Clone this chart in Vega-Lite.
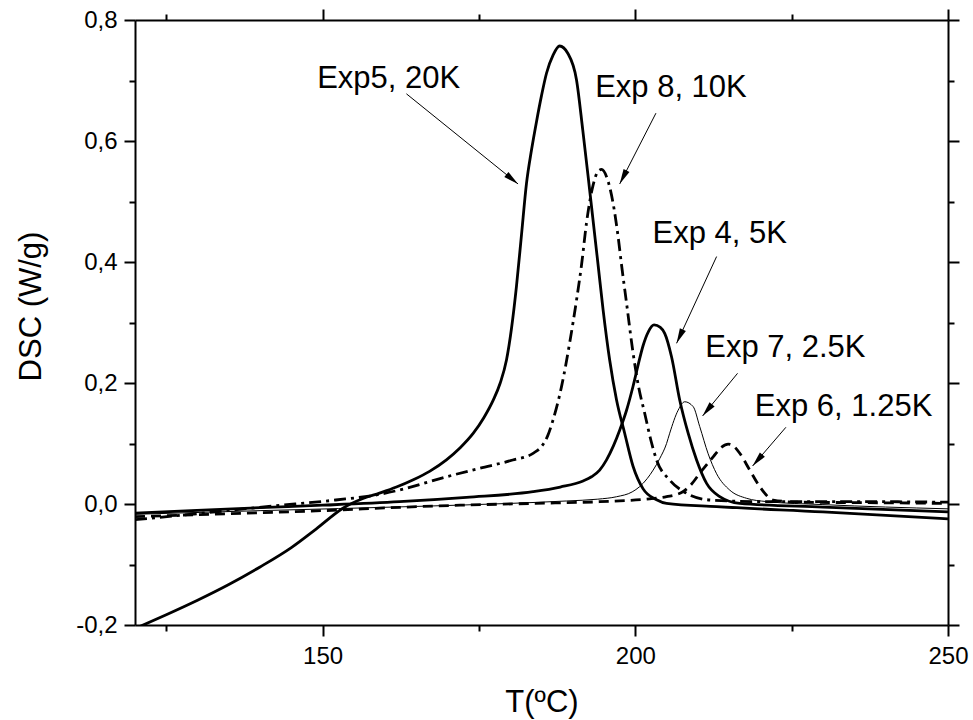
{
  "$schema": "https://vega.github.io/schema/vega-lite/v6.json",
  "width": 813,
  "height": 605,
  "autosize": {"type": "none"},
  "padding": {"left": 135, "top": 20, "right": 25, "bottom": 95},
  "background": "white",
  "config": {"view": {"stroke": null}, "font": "Liberation Sans"},
  "datasets": {
    "curves": [
      {"series": "Exp5", "T": 120, "DSC": -0.206},
      {"series": "Exp5", "T": 125, "DSC": -0.183},
      {"series": "Exp5", "T": 130, "DSC": -0.159},
      {"series": "Exp5", "T": 135, "DSC": -0.133},
      {"series": "Exp5", "T": 140, "DSC": -0.104},
      {"series": "Exp5", "T": 145, "DSC": -0.072},
      {"series": "Exp5", "T": 149, "DSC": -0.041},
      {"series": "Exp5", "T": 153.25, "DSC": -0.007},
      {"series": "Exp5", "T": 156.45, "DSC": 0.009},
      {"series": "Exp5", "T": 159.1, "DSC": 0.018},
      {"series": "Exp5", "T": 161.8, "DSC": 0.028},
      {"series": "Exp5", "T": 164.5, "DSC": 0.04},
      {"series": "Exp5", "T": 167.1, "DSC": 0.054},
      {"series": "Exp5", "T": 169.8, "DSC": 0.073},
      {"series": "Exp5", "T": 172.0, "DSC": 0.093},
      {"series": "Exp5", "T": 174.1, "DSC": 0.117},
      {"series": "Exp5", "T": 175.8, "DSC": 0.143},
      {"series": "Exp5", "T": 177.3, "DSC": 0.172},
      {"series": "Exp5", "T": 178.4, "DSC": 0.2},
      {"series": "Exp5", "T": 179.4, "DSC": 0.238},
      {"series": "Exp5", "T": 180.2, "DSC": 0.29},
      {"series": "Exp5", "T": 181.0, "DSC": 0.36},
      {"series": "Exp5", "T": 181.8, "DSC": 0.445},
      {"series": "Exp5", "T": 182.6, "DSC": 0.53},
      {"series": "Exp5", "T": 183.4, "DSC": 0.585},
      {"series": "Exp5", "T": 184.2, "DSC": 0.632},
      {"series": "Exp5", "T": 185.0, "DSC": 0.675},
      {"series": "Exp5", "T": 185.8, "DSC": 0.712},
      {"series": "Exp5", "T": 186.85, "DSC": 0.742},
      {"series": "Exp5", "T": 187.9, "DSC": 0.757},
      {"series": "Exp5", "T": 189.2, "DSC": 0.745},
      {"series": "Exp5", "T": 190.6, "DSC": 0.701},
      {"series": "Exp5", "T": 191.6, "DSC": 0.618},
      {"series": "Exp5", "T": 192.7, "DSC": 0.519},
      {"series": "Exp5", "T": 194.05, "DSC": 0.395},
      {"series": "Exp5", "T": 194.85, "DSC": 0.321},
      {"series": "Exp5", "T": 195.9, "DSC": 0.238},
      {"series": "Exp5", "T": 197.0, "DSC": 0.172},
      {"series": "Exp5", "T": 198.3, "DSC": 0.117},
      {"series": "Exp5", "T": 199.65, "DSC": 0.062},
      {"series": "Exp5", "T": 201.25, "DSC": 0.025},
      {"series": "Exp5", "T": 203.4, "DSC": 0.007},
      {"series": "Exp5", "T": 205.0, "DSC": 0.001},
      {"series": "Exp5", "T": 213.0, "DSC": -0.0044},
      {"series": "Exp5", "T": 230.0, "DSC": -0.013},
      {"series": "Exp5", "T": 250.0, "DSC": -0.0245},

      {"series": "Exp8", "T": 120, "DSC": -0.026},
      {"series": "Exp8", "T": 130, "DSC": -0.016},
      {"series": "Exp8", "T": 141.4, "DSC": -0.004},
      {"series": "Exp8", "T": 152.1, "DSC": 0.0066},
      {"series": "Exp8", "T": 158.0, "DSC": 0.014},
      {"series": "Exp8", "T": 162.3, "DSC": 0.0231},
      {"series": "Exp8", "T": 169.8, "DSC": 0.045},
      {"series": "Exp8", "T": 175.1, "DSC": 0.059},
      {"series": "Exp8", "T": 180.4, "DSC": 0.0727},
      {"series": "Exp8", "T": 183.65, "DSC": 0.0838},
      {"series": "Exp8", "T": 185.0, "DSC": 0.095},
      {"series": "Exp8", "T": 186.0, "DSC": 0.113},
      {"series": "Exp8", "T": 186.85, "DSC": 0.139},
      {"series": "Exp8", "T": 188.2, "DSC": 0.194},
      {"series": "Exp8", "T": 189.5, "DSC": 0.266},
      {"series": "Exp8", "T": 190.6, "DSC": 0.337},
      {"series": "Exp8", "T": 191.4, "DSC": 0.395},
      {"series": "Exp8", "T": 192.2, "DSC": 0.465},
      {"series": "Exp8", "T": 193.25, "DSC": 0.527},
      {"series": "Exp8", "T": 194.05, "DSC": 0.55},
      {"series": "Exp8", "T": 194.6, "DSC": 0.553},
      {"series": "Exp8", "T": 195.4, "DSC": 0.541},
      {"series": "Exp8", "T": 196.45, "DSC": 0.497},
      {"series": "Exp8", "T": 197.25, "DSC": 0.442},
      {"series": "Exp8", "T": 197.8, "DSC": 0.395},
      {"series": "Exp8", "T": 198.6, "DSC": 0.332},
      {"series": "Exp8", "T": 199.65, "DSC": 0.249},
      {"series": "Exp8", "T": 200.5, "DSC": 0.195},
      {"series": "Exp8", "T": 201.5, "DSC": 0.15},
      {"series": "Exp8", "T": 202.5, "DSC": 0.105},
      {"series": "Exp8", "T": 203.4, "DSC": 0.0727},
      {"series": "Exp8", "T": 205.5, "DSC": 0.0397},
      {"series": "Exp8", "T": 208.2, "DSC": 0.0177},
      {"series": "Exp8", "T": 212.0, "DSC": 0.0066},
      {"series": "Exp8", "T": 220.0, "DSC": 0.004},
      {"series": "Exp8", "T": 235.0, "DSC": 0.004},
      {"series": "Exp8", "T": 250.0, "DSC": 0.003},

      {"series": "Exp4", "T": 120, "DSC": -0.015},
      {"series": "Exp4", "T": 140, "DSC": -0.006},
      {"series": "Exp4", "T": 150, "DSC": -0.002},
      {"series": "Exp4", "T": 162.3, "DSC": 0.0038},
      {"series": "Exp4", "T": 173.0, "DSC": 0.011},
      {"series": "Exp4", "T": 183.65, "DSC": 0.0203},
      {"series": "Exp4", "T": 188.0, "DSC": 0.028},
      {"series": "Exp4", "T": 191.65, "DSC": 0.038},
      {"series": "Exp4", "T": 193.0, "DSC": 0.045},
      {"series": "Exp4", "T": 194.3, "DSC": 0.056},
      {"series": "Exp4", "T": 195.4, "DSC": 0.073},
      {"series": "Exp4", "T": 196.5, "DSC": 0.096},
      {"series": "Exp4", "T": 197.5, "DSC": 0.122},
      {"series": "Exp4", "T": 198.6, "DSC": 0.155},
      {"series": "Exp4", "T": 199.65, "DSC": 0.195},
      {"series": "Exp4", "T": 200.5, "DSC": 0.232},
      {"series": "Exp4", "T": 201.25, "DSC": 0.262},
      {"series": "Exp4", "T": 202.1, "DSC": 0.285},
      {"series": "Exp4", "T": 203.0, "DSC": 0.296},
      {"series": "Exp4", "T": 204.0, "DSC": 0.292},
      {"series": "Exp4", "T": 204.7, "DSC": 0.282},
      {"series": "Exp4", "T": 205.8, "DSC": 0.243},
      {"series": "Exp4", "T": 207.1, "DSC": 0.172},
      {"series": "Exp4", "T": 208.45, "DSC": 0.117},
      {"series": "Exp4", "T": 209.8, "DSC": 0.0727},
      {"series": "Exp4", "T": 211.4, "DSC": 0.034},
      {"series": "Exp4", "T": 213.5, "DSC": 0.0121},
      {"series": "Exp4", "T": 216.7, "DSC": 0.001},
      {"series": "Exp4", "T": 230.0, "DSC": -0.005},
      {"series": "Exp4", "T": 250.0, "DSC": -0.013},

      {"series": "Exp7", "T": 120, "DSC": -0.017},
      {"series": "Exp7", "T": 140, "DSC": -0.011},
      {"series": "Exp7", "T": 165, "DSC": -0.004},
      {"series": "Exp7", "T": 180, "DSC": 0.001},
      {"series": "Exp7", "T": 189, "DSC": 0.005},
      {"series": "Exp7", "T": 194, "DSC": 0.008},
      {"series": "Exp7", "T": 197, "DSC": 0.012},
      {"series": "Exp7", "T": 199.5, "DSC": 0.02},
      {"series": "Exp7", "T": 200.7, "DSC": 0.0287},
      {"series": "Exp7", "T": 201.9, "DSC": 0.042},
      {"series": "Exp7", "T": 202.85, "DSC": 0.056},
      {"series": "Exp7", "T": 203.9, "DSC": 0.075},
      {"series": "Exp7", "T": 205.0, "DSC": 0.1},
      {"series": "Exp7", "T": 205.5, "DSC": 0.117},
      {"series": "Exp7", "T": 206.85, "DSC": 0.155},
      {"series": "Exp7", "T": 207.9, "DSC": 0.169},
      {"series": "Exp7", "T": 209.25, "DSC": 0.161},
      {"series": "Exp7", "T": 210.3, "DSC": 0.128},
      {"series": "Exp7", "T": 211.65, "DSC": 0.083},
      {"series": "Exp7", "T": 213.0, "DSC": 0.05},
      {"series": "Exp7", "T": 215.1, "DSC": 0.023},
      {"series": "Exp7", "T": 217.8, "DSC": 0.0094},
      {"series": "Exp7", "T": 221.0, "DSC": 0.004},
      {"series": "Exp7", "T": 230.0, "DSC": -0.001},
      {"series": "Exp7", "T": 250.0, "DSC": -0.008},

      {"series": "Exp6", "T": 120, "DSC": -0.021},
      {"series": "Exp6", "T": 135, "DSC": -0.016},
      {"series": "Exp6", "T": 150, "DSC": -0.011},
      {"series": "Exp6", "T": 162.3, "DSC": -0.0055},
      {"series": "Exp6", "T": 172.0, "DSC": -0.002},
      {"series": "Exp6", "T": 183.65, "DSC": 0.001},
      {"series": "Exp6", "T": 194.3, "DSC": 0.0038},
      {"series": "Exp6", "T": 202.3, "DSC": 0.0085},
      {"series": "Exp6", "T": 205.0, "DSC": 0.012},
      {"series": "Exp6", "T": 207.6, "DSC": 0.0203},
      {"series": "Exp6", "T": 209.0, "DSC": 0.033},
      {"series": "Exp6", "T": 210.3, "DSC": 0.0507},
      {"series": "Exp6", "T": 212.45, "DSC": 0.078},
      {"series": "Exp6", "T": 213.8, "DSC": 0.094},
      {"series": "Exp6", "T": 214.85, "DSC": 0.099},
      {"series": "Exp6", "T": 215.8, "DSC": 0.095},
      {"series": "Exp6", "T": 216.7, "DSC": 0.0838},
      {"series": "Exp6", "T": 218.3, "DSC": 0.056},
      {"series": "Exp6", "T": 219.9, "DSC": 0.0287},
      {"series": "Exp6", "T": 222.05, "DSC": 0.0066},
      {"series": "Exp6", "T": 226.0, "DSC": 0.003},
      {"series": "Exp6", "T": 240.0, "DSC": 0.002},
      {"series": "Exp6", "T": 250.0, "DSC": 0.001}
    ],
    "ann": [
      {"label": "Exp5, 20K", "tx": 160.56, "ty": 0.688, "x1": 163.4, "y1": 0.678, "x2": 181.25, "y2": 0.529},
      {"label": "Exp 8, 10K", "tx": 205.7, "ty": 0.673, "x1": 203.3, "y1": 0.646, "x2": 197.5, "y2": 0.529},
      {"label": "Exp 4, 5K", "tx": 213.5, "ty": 0.431, "x1": 213.0, "y1": 0.409, "x2": 206.6, "y2": 0.2656},
      {"label": "Exp 7, 2.5K", "tx": 224.0, "ty": 0.243, "x1": 216.35, "y1": 0.216, "x2": 210.75, "y2": 0.1455},
      {"label": "Exp 6, 1.25K", "tx": 233.3, "ty": 0.146, "x1": 224.08, "y1": 0.1268, "x2": 218.75, "y2": 0.0628}
    ]
  },
  "layer": [
    {
      "data": {"name": "curves"},
      "transform": [{"filter": "datum.series == 'Exp5'"}],
      "mark": {"type": "line", "color": "black", "interpolate": "monotone", "clip": true, "strokeWidth": 2.8},
      "encoding": {
        "x": {
          "field": "T", "type": "quantitative",
          "scale": {"domain": [120, 250], "nice": false, "zero": false},
          "axis": {
            "orient": "bottom",
            "values": [150, 200, 250],
            "title": "T(ºC)",
            "titleFont": "Liberation Sans", "titleFontSize": 31, "titleFontWeight": "normal", "titleColor": "black",
            "titlePadding": 19,
            "labelFont": "Liberation Sans", "labelFontSize": 24, "labelColor": "black", "labelPadding": 8,
            "labelFlush": false, "labelOverlap": false,
            "tickSize": 11, "tickWidth": 2, "tickColor": "black", "domainColor": "black", "domainWidth": 2, "grid": false
          }
        },
        "y": {
          "field": "DSC", "type": "quantitative",
          "scale": {"domain": [-0.2, 0.8], "nice": false, "zero": false},
          "axis": {
            "orient": "left",
            "values": [-0.2, 0, 0.2, 0.4, 0.6, 0.8],
            "title": "DSC (W/g)",
            "titleFont": "Liberation Sans", "titleFontSize": 31, "titleFontWeight": "normal", "titleColor": "black",
            "titlePadding": 28, "titleY": 286,
            "labelFont": "Liberation Sans", "labelFontSize": 24, "labelColor": "black", "labelPadding": 7,
            "labelFlush": false, "labelOverlap": false,
            "labelExpr": "(datum.value < 0 ? '-' : '') + replace(format(abs(datum.value), '.1f'), '.', ',')",
            "tickSize": 11, "tickWidth": 2, "tickColor": "black", "domainColor": "black", "domainWidth": 2, "grid": false
          }
        }
      }
    },
    {
      "data": {"name": "curves"},
      "transform": [{"filter": "datum.series == 'Exp8'"}],
      "mark": {"type": "line", "color": "black", "interpolate": "monotone", "clip": true, "strokeWidth": 2.8, "strokeDash": [12, 5, 3, 5]},
      "encoding": {
        "x": {
          "field": "T", "type": "quantitative",
          "scale": {"domain": [120, 250], "nice": false, "zero": false},
          "axis": {
            "orient": "top", "values": [150, 200, 250], "title": null, "labels": false,
            "tickSize": 11, "tickWidth": 2, "tickColor": "black", "domainColor": "black", "domainWidth": 2, "grid": false
          }
        },
        "y": {
          "field": "DSC", "type": "quantitative",
          "scale": {"domain": [-0.2, 0.8], "nice": false, "zero": false},
          "axis": {
            "orient": "right", "values": [-0.2, 0, 0.2, 0.4, 0.6, 0.8], "title": null, "labels": false,
            "tickSize": 11, "tickWidth": 2, "tickColor": "black", "domainColor": "black", "domainWidth": 2, "grid": false
          }
        }
      }
    },
    {
      "data": {"name": "curves"},
      "transform": [{"filter": "datum.series == 'Exp4'"}],
      "mark": {"type": "line", "color": "black", "interpolate": "monotone", "clip": true, "strokeWidth": 2.8},
      "encoding": {
        "x": {
          "field": "T", "type": "quantitative",
          "scale": {"domain": [120, 250], "nice": false, "zero": false},
          "axis": {
            "orient": "bottom", "values": [125, 175, 225], "title": null, "labels": false, "domain": false,
            "tickSize": 6, "tickWidth": 2, "tickColor": "black", "grid": false
          }
        },
        "y": {
          "field": "DSC", "type": "quantitative",
          "scale": {"domain": [-0.2, 0.8], "nice": false, "zero": false},
          "axis": {
            "orient": "left", "values": [-0.1, 0.1, 0.3, 0.5, 0.7], "title": null, "labels": false, "domain": false,
            "tickSize": 6, "tickWidth": 2, "tickColor": "black", "grid": false
          }
        }
      }
    },
    {
      "data": {"name": "curves"},
      "transform": [{"filter": "datum.series == 'Exp7'"}],
      "mark": {"type": "line", "color": "black", "interpolate": "monotone", "clip": true, "strokeWidth": 1},
      "encoding": {
        "x": {
          "field": "T", "type": "quantitative",
          "scale": {"domain": [120, 250], "nice": false, "zero": false},
          "axis": {
            "orient": "top", "values": [125, 175, 225], "title": null, "labels": false, "domain": false,
            "tickSize": 6, "tickWidth": 2, "tickColor": "black", "grid": false
          }
        },
        "y": {
          "field": "DSC", "type": "quantitative",
          "scale": {"domain": [-0.2, 0.8], "nice": false, "zero": false},
          "axis": {
            "orient": "right", "values": [-0.1, 0.1, 0.3, 0.5, 0.7], "title": null, "labels": false, "domain": false,
            "tickSize": 6, "tickWidth": 2, "tickColor": "black", "grid": false
          }
        }
      }
    },
    {
      "data": {"name": "curves"},
      "transform": [{"filter": "datum.series == 'Exp6'"}],
      "mark": {"type": "line", "color": "black", "interpolate": "monotone", "clip": true, "strokeWidth": 2.8, "strokeDash": [10, 6]},
      "encoding": {
        "x": {"field": "T", "type": "quantitative", "scale": {"domain": [120, 250], "nice": false, "zero": false}, "axis": null},
        "y": {"field": "DSC", "type": "quantitative", "scale": {"domain": [-0.2, 0.8], "nice": false, "zero": false}, "axis": null}
      }
    },
    {
      "data": {"name": "ann"},
      "mark": {"type": "text", "font": "Liberation Sans", "fontSize": 31, "color": "black", "align": "center", "baseline": "alphabetic"},
      "encoding": {
        "x": {"field": "tx", "type": "quantitative", "scale": {"domain": [120, 250], "nice": false, "zero": false}, "axis": null},
        "y": {"field": "ty", "type": "quantitative", "scale": {"domain": [-0.2, 0.8], "nice": false, "zero": false}, "axis": null},
        "text": {"field": "label"}
      }
    },
    {
      "data": {"name": "ann"},
      "mark": {"type": "rule", "color": "black", "strokeWidth": 1},
      "encoding": {
        "x": {"field": "x1", "type": "quantitative", "scale": {"domain": [120, 250], "nice": false, "zero": false}, "axis": null},
        "y": {"field": "y1", "type": "quantitative", "scale": {"domain": [-0.2, 0.8], "nice": false, "zero": false}, "axis": null},
        "x2": {"field": "x2"},
        "y2": {"field": "y2"}
      }
    },
    {
      "data": {"name": "ann"},
      "transform": [
        {"calculate": "atan2((datum.x2 - datum.x1) * 6.254, (datum.y2 - datum.y1) * 605) * 180 / PI", "as": "ang"}
      ],
      "mark": {"type": "point", "shape": "M0,0L-0.22,1L0.22,1Z", "filled": true, "color": "black", "opacity": 1, "size": 900, "strokeWidth": 0},
      "encoding": {
        "x": {"field": "x2", "type": "quantitative", "scale": {"domain": [120, 250], "nice": false, "zero": false}, "axis": null},
        "y": {"field": "y2", "type": "quantitative", "scale": {"domain": [-0.2, 0.8], "nice": false, "zero": false}, "axis": null},
        "angle": {"field": "ang", "type": "quantitative", "scale": null}
      }
    }
  ],
  "resolve": {"axis": {"x": "independent", "y": "independent"}}
}
